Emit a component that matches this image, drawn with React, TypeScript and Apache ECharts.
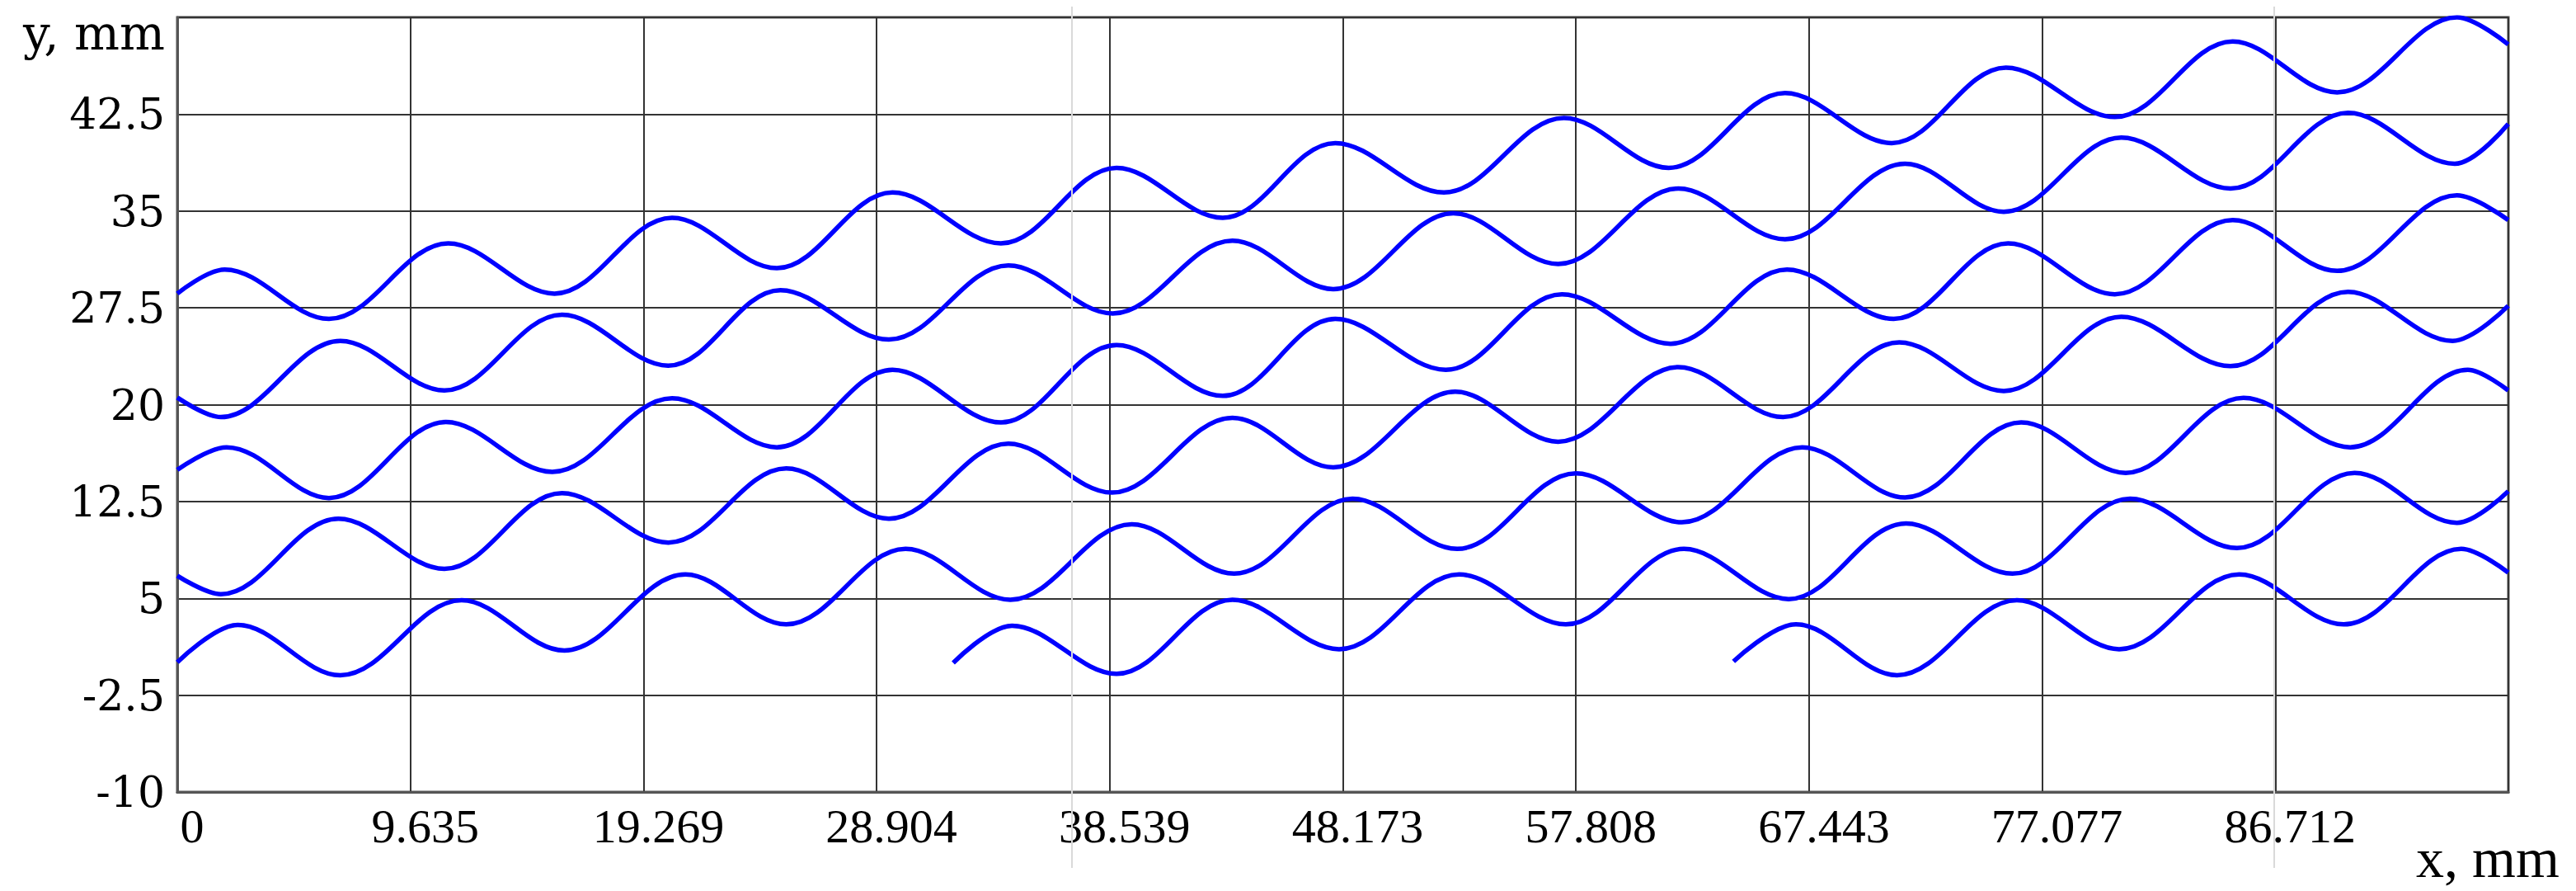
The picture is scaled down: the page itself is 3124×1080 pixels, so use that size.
import React, { useEffect, useRef } from "react";
import * as echarts from "echarts";

// Axis setup
const X_STEP = 9.63466;
const X_MAX = 96.3466;
const Y_MIN = -10;
const Y_MAX = 50;
const Y_STEP = 7.5;
const xTickLabels = ["0", "9.635", "19.269", "28.904", "38.539", "48.173", "57.808", "67.443", "77.077", "86.712", ""];
const yTickLabels = ["-10", "-2.5", "5", "12.5", "20", "27.5", "35", "42.5", ""];

// Curves: start, peaks/troughs and end points
const curveA: [number, number][] = [
  [0, 28.6], [1.96, 30.47], [6.27, 26.64], [11.2, 32.49], [15.59, 28.6], [20.45, 34.47],
  [24.78, 30.57], [29.56, 36.43], [34.04, 32.49], [38.82, 38.34], [43.21, 34.47], [47.86, 40.26],
  [52.35, 36.43], [57.31, 42.21], [61.64, 38.34], [66.45, 44.13], [70.86, 40.26], [75.58, 46.11],
  [80.08, 42.28], [84.95, 48.13], [89.27, 44.19], [94.22, 50.0], [96.34, 47.9],
];
const curveB: [number, number][] = [
  [0, 20.55], [1.8, 19.04], [6.74, 24.94], [11.04, 21.1], [15.9, 26.96], [20.29, 23.02],
  [24.93, 28.87], [29.41, 25.04], [34.35, 30.79], [38.66, 27.06], [43.61, 32.7], [47.78, 28.95],
  [52.74, 34.83], [57.07, 30.89], [62.04, 36.74], [66.45, 32.81], [71.41, 38.66], [75.49, 34.94],
  [80.35, 40.68], [84.86, 36.74], [89.72, 42.6], [94.13, 38.66], [96.34, 41.74],
];
const curveC: [number, number][] = [
  [0, 14.95], [2.04, 16.7], [6.27, 12.77], [11.1, 18.66], [15.5, 14.79], [20.45, 20.5],
  [24.78, 16.7], [29.56, 22.7], [34.04, 18.62], [38.82, 24.62], [43.21, 20.68], [47.86, 26.64],
  [52.43, 22.7], [57.23, 28.55], [61.72, 24.72], [66.53, 30.47], [70.94, 26.64], [75.67, 32.49],
  [80.08, 28.55], [84.95, 34.3], [89.27, 30.36], [94.22, 36.21], [96.34, 34.3],
];
const curveD: [number, number][] = [
  [0, 6.75], [1.8, 5.32], [6.66, 11.17], [11.04, 7.28], [15.9, 13.15], [20.3, 9.32],
  [25.17, 15.06], [29.41, 11.17], [34.35, 16.98], [38.63, 13.19], [43.61, 18.98], [47.78, 15.15],
  [52.82, 21.0], [57.07, 17.13], [62.04, 22.91], [66.37, 19.04], [71.17, 24.83], [75.49, 21.06],
  [80.35, 26.81], [84.86, 22.98], [89.72, 28.74], [94.04, 24.94], [96.34, 27.66],
];
const curveE: [number, number][] = [
  [0, 0.05], [2.5, 2.94], [6.74, -0.96], [11.75, 4.85], [16.0, 0.96], [21.0, 6.85],
  [25.17, 2.98], [30.1, 8.83], [34.43, 4.89], [39.45, 10.74], [43.68, 6.91], [48.57, 12.72],
  [52.9, 8.83], [57.81, 14.68], [62.19, 10.89], [67.16, 16.7], [71.41, 12.81], [76.21, 18.62],
  [80.53, 14.72], [85.4, 20.53], [89.81, 16.7], [94.67, 22.7], [96.34, 21.1],
];
const curveF: [number, number][] = [
  [32.07, 0.0], [34.5, 2.87], [38.82, -0.85], [43.61, 4.89], [48.02, 1.06], [52.98, 6.85],
  [57.39, 2.98], [62.27, 8.83], [66.6, 4.94], [71.45, 10.8], [75.85, 6.91], [80.71, 12.72],
  [85.13, 8.89], [89.99, 14.72], [94.22, 10.85], [96.34, 13.3],
];
const curveG: [number, number][] = [
  [64.32, 0.11], [66.9, 2.98], [71.08, -0.96], [76.03, 4.85], [80.26, 1.06], [85.22, 6.85],
  [89.54, 2.98], [94.4, 8.83], [96.34, 7.0],
];

const curves = [curveA, curveB, curveC, curveD, curveE, curveF, curveG];

const FONT = "'Liberation Serif', 'Times New Roman', serif";
const WIDE_FONT = "'DejaVu Serif', serif";

export default function App() {
  const ref = useRef<HTMLDivElement>(null);

  useEffect(() => {
    if (!ref.current) return;
    const chart = echarts.init(ref.current, undefined, { renderer: "svg" });
    chart.setOption({
      animation: false,
      backgroundColor: "#ffffff",
      grid: {
        left: 215,
        right: 82,
        top: 21,
        bottom: 120,
        show: true,
        borderColor: "#555555",
        borderWidth: 3,
        backgroundColor: "transparent",
      },
      xAxis: {
        type: "value",
        min: 0,
        max: X_MAX,
        interval: X_STEP,
        name: "x, mm",
        nameLocation: "end",
        nameGap: -112,
        nameTextStyle: {
          fontFamily: FONT,
          fontSize: 68,
          color: "#000",
          align: "left",
          verticalAlign: "top",
          padding: [46, 0, 0, 0],
        },
        axisLine: { show: true, onZero: false, lineStyle: { color: "#555555", width: 3 } },
        axisTick: { show: false },
        splitLine: { show: true, lineStyle: { color: "#333333", width: 2 } },
        axisLabel: {
          fontFamily: FONT,
          fontSize: 58,
          color: "#000",
          margin: 12,
          padding: [0, 0, 0, 36],
          formatter: (v: number) => xTickLabels[Math.round(v / X_STEP)] ?? "",
        },
      },
      yAxis: {
        type: "value",
        min: Y_MIN,
        max: Y_MAX,
        interval: Y_STEP,
        name: "y, mm",
        nameLocation: "end",
        nameGap: -19,
        nameTextStyle: {
          fontFamily: WIDE_FONT,
          fontSize: 58,
          color: "#000",
          align: "right",
          verticalAlign: "middle",
          padding: [0, 15, 0, 0],
        },
        axisLine: { show: true, onZero: false, lineStyle: { color: "#555555", width: 3 } },
        axisTick: { show: false },
        splitLine: { show: true, lineStyle: { color: "#333333", width: 2 } },
        axisLabel: {
          fontFamily: WIDE_FONT,
          fontSize: 52,
          color: "#000",
          margin: 15,
          formatter: (v: number) => yTickLabels[Math.round((v - Y_MIN) / Y_STEP)] ?? "",
        },
      },
      series: curves.map((c, i) => ({
        type: "line",
        name: "curve" + (i + 1),
        data: c,
        smooth: 0.36,
        showSymbol: false,
        symbol: "none",
        clip: true,
        lineStyle: { color: "#0000ff", width: 5.5 },
        z: 3,
      })),
      graphic: [
        {
          type: "line",
          z: 100,
          silent: true,
          shape: { x1: 1300, y1: 8, x2: 1300, y2: 1052 },
          style: { stroke: "#d9d9d9", lineWidth: 2 },
        },
        {
          type: "line",
          z: 100,
          silent: true,
          shape: { x1: 2758, y1: 8, x2: 2758, y2: 1052 },
          style: { stroke: "#d9d9d9", lineWidth: 2 },
        },
      ],
    });
    return () => chart.dispose();
  }, []);

  return (
    <div
      ref={ref}
      style={{ position: "fixed", left: 0, top: 0, width: 3124, height: 1080, background: "#fff" }}
    />
  );
}
